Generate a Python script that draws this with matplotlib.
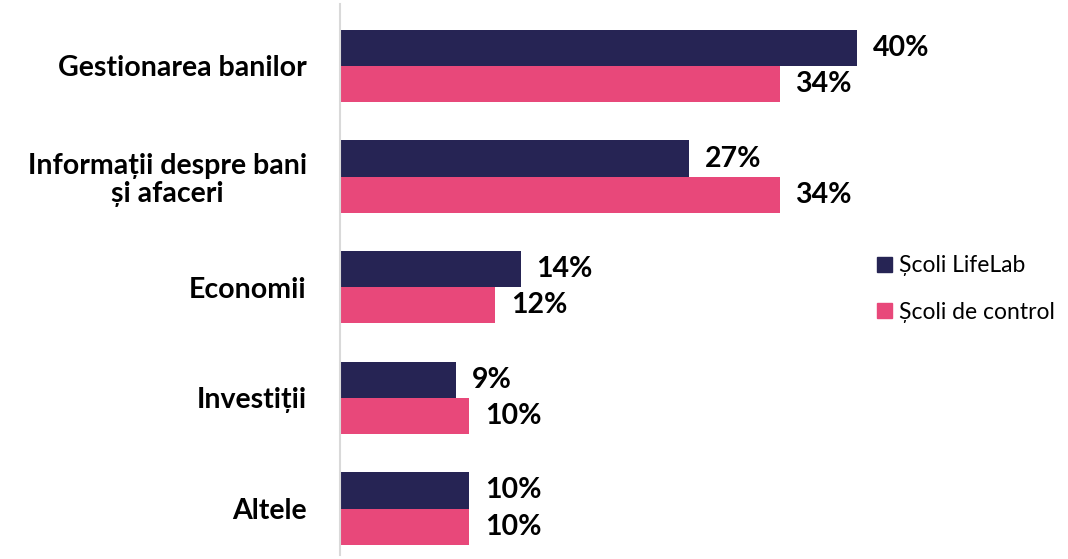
import numpy as np
import matplotlib.pyplot as plt
from matplotlib.patches import Patch

categories = ["Gestionarea banilor", "Informații despre bani\nși afaceri", "Economii", "Investiții", "Altele"]
lifelab = [40, 27, 14, 9, 10]
control = [34, 34, 12, 10, 10]
series_names = ["Școli LifeLab", "Școli de control"]

dark = "#262454"
pink = "#E8487A"

fig = plt.figure(figsize=(10.68, 5.59), dpi=100)
W, H = 1068, 559
# axes from x=340px, 12.93 px per percent
x_max = 45
ax = fig.add_axes([340 / W, 4 / H, x_max * 12.93 / W, 551 / H])

y = np.arange(len(categories))
h = 0.327
ax.barh(y - h / 2, lifelab, height=h, color=dark)
ax.barh(y + h / 2, control, height=h, color=pink)

for yi, v in zip(y, lifelab):
    ax.text(v + 1.2, yi - h / 2, f"{v}%", va="center", ha="left",
            fontsize=20.5, fontweight="bold", family="Lato")
for yi, v in zip(y, control):
    ax.text(v + 1.2, yi + h / 2, f"{v}%", va="center", ha="left",
            fontsize=20.5, fontweight="bold", family="Lato")

ax.set_xlim(0, x_max)
ax.set_ylim(4.42, -0.56)
ax.set_yticks(y)
ax.set_yticklabels(categories, fontsize=20.5, fontweight="bold", family="Lato",
                   multialignment="center", linespacing=1.1)
ax.tick_params(axis="y", length=0, pad=24)
ax.set_xticks([])
for s in ["top", "right", "bottom"]:
    ax.spines[s].set_visible(False)
ax.spines["left"].set_color("#d9d9d9")
ax.spines["left"].set_linewidth(1.5)

handles = [Patch(color=dark), Patch(color=pink)]
fig.legend(handles, series_names, loc="center left", bbox_to_anchor=(861 / W, 1 - 289 / H),
           frameon=False, prop={"family": "Lato", "size": 16.5},
           handlelength=0.65, handleheight=0.65, handletextpad=0.3, labelspacing=1.1,
           borderpad=0.2)

fig.savefig("out.png", dpi=100)
